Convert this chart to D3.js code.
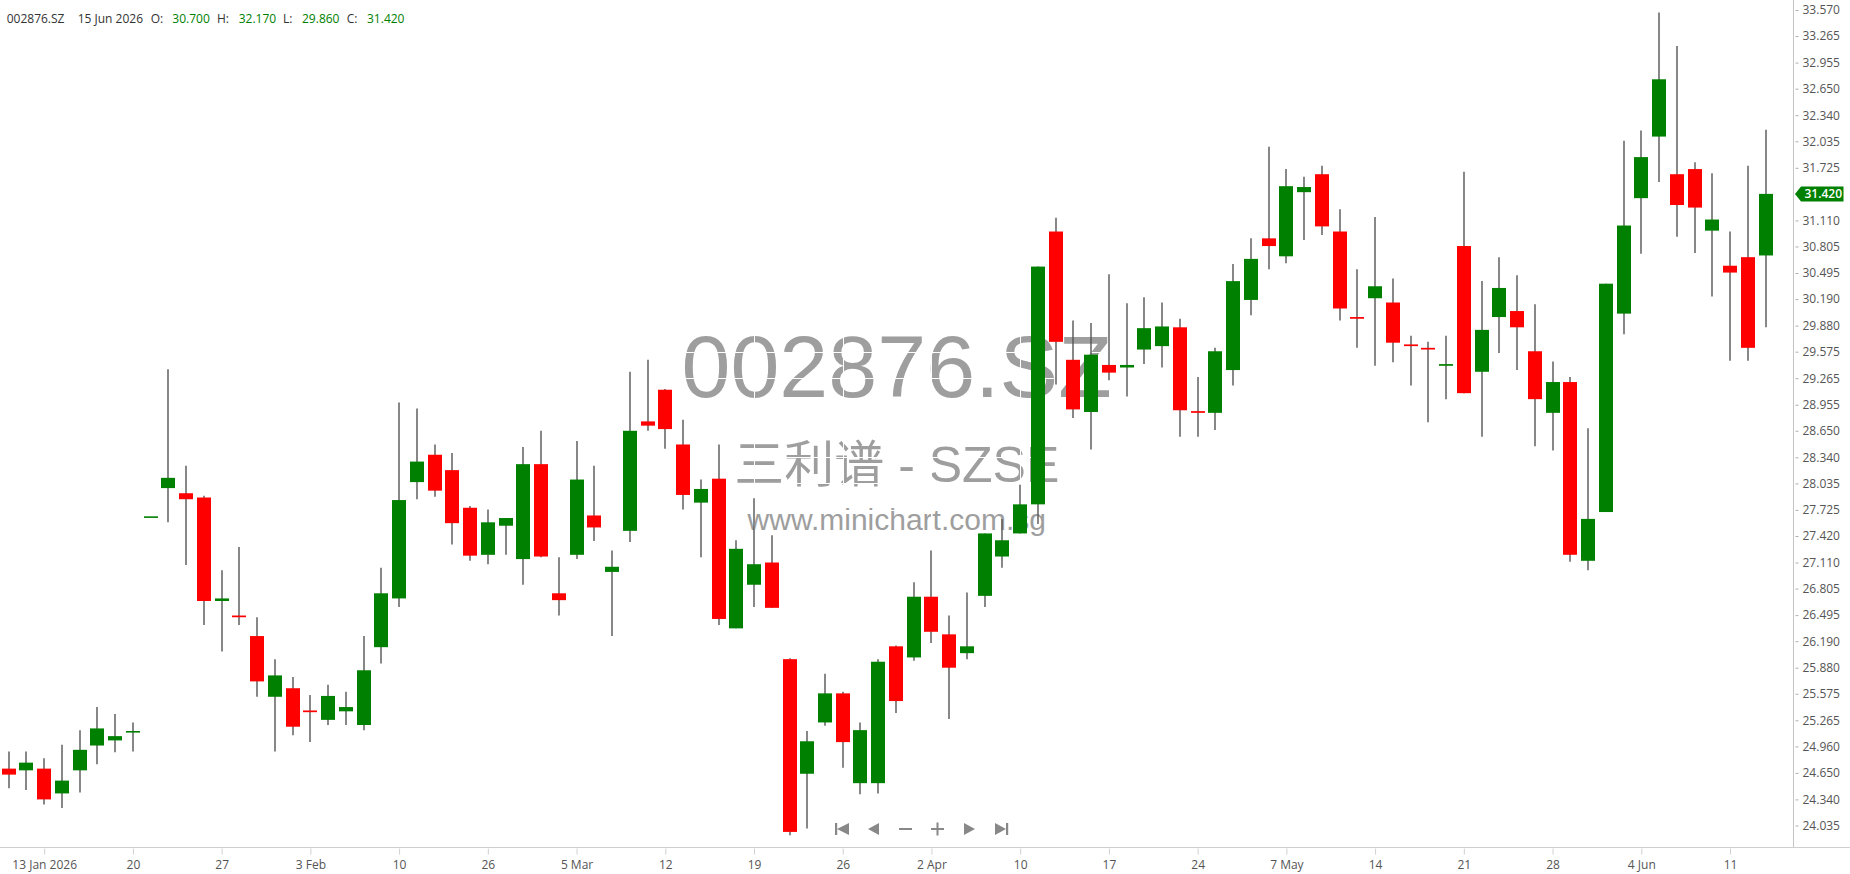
<!DOCTYPE html>
<html><head><meta charset="utf-8">
<script src="https://cdn.jsdelivr.net/npm/d3@7/dist/d3.min.js"></script>
<style>
html,body{margin:0;padding:0;background:#fff;overflow:hidden}
svg{display:block}
</style></head><body>
<svg id="chart" width="1850" height="874"></svg>
<script>
const symbol = "002876.SZ";
const exchangeLine = "三利谱 - SZSE";
const siteLine = "www.minichart.com.sg";

const dates = ["2026-01-09","2026-01-12","2026-01-13","2026-01-14","2026-01-15","2026-01-16","2026-01-19","2026-01-20","2026-01-21","2026-01-22","2026-01-23","2026-01-26","2026-01-27","2026-01-28","2026-01-29","2026-01-30","2026-02-02","2026-02-03","2026-02-04","2026-02-05","2026-02-06","2026-02-09","2026-02-10","2026-02-11","2026-02-12","2026-02-13","2026-02-25","2026-02-26","2026-02-27","2026-03-02","2026-03-03","2026-03-04","2026-03-05","2026-03-06","2026-03-09","2026-03-10","2026-03-11","2026-03-12","2026-03-13","2026-03-16","2026-03-17","2026-03-18","2026-03-19","2026-03-20","2026-03-23","2026-03-24","2026-03-25","2026-03-26","2026-03-27","2026-03-30","2026-03-31","2026-04-01","2026-04-02","2026-04-03","2026-04-07","2026-04-08","2026-04-09","2026-04-10","2026-04-13","2026-04-14","2026-04-15","2026-04-16","2026-04-17","2026-04-20","2026-04-21","2026-04-22","2026-04-23","2026-04-24","2026-04-27","2026-04-28","2026-04-29","2026-04-30","2026-05-07","2026-05-08","2026-05-11","2026-05-12","2026-05-13","2026-05-14","2026-05-15","2026-05-18","2026-05-19","2026-05-20","2026-05-21","2026-05-22","2026-05-25","2026-05-26","2026-05-27","2026-05-28","2026-05-29","2026-06-01","2026-06-02","2026-06-03","2026-06-04","2026-06-05","2026-06-08","2026-06-09","2026-06-10","2026-06-11","2026-06-12","2026-06-15"];

const open = [24.70,24.68,24.70,24.41,24.68,24.97,25.03,25.13,27.65,27.98,
27.92,27.87,26.66,26.49,26.25,25.54,25.64,25.38,25.27,25.37,
25.21,26.12,26.69,28.05,28.37,28.19,27.75,27.20,27.54,27.15,
28.26,26.75,27.20,27.66,27.00,27.48,28.76,29.13,28.49,27.81,
28.09,26.34,26.85,27.11,25.98,24.64,25.24,25.58,24.53,24.53,
26.13,26.00,26.71,26.27,26.05,26.72,27.18,27.45,27.79,30.98,
29.48,28.87,29.42,29.39,29.60,29.64,29.86,28.88,28.86,29.36,
30.18,30.90,30.69,31.44,31.65,30.98,29.98,30.20,30.15,29.66,
29.62,29.41,30.81,29.34,29.98,30.05,29.58,28.86,29.22,27.13,
27.70,30.02,31.37,32.09,31.65,31.71,30.99,30.58,30.68,30.70];

const high = [24.90,24.90,24.82,24.98,25.15,25.42,25.34,25.24,27.65,29.37,
28.24,27.89,27.02,27.29,26.47,25.98,25.77,25.56,25.68,25.60,
26.25,27.05,28.98,28.91,28.49,28.39,27.77,27.73,27.63,28.46,
28.65,27.17,28.53,28.24,27.25,29.34,29.48,29.14,28.78,28.08,
28.49,27.37,27.86,27.43,25.99,25.14,25.81,25.60,25.24,25.98,
26.14,26.88,27.25,26.49,26.76,27.45,27.62,28.02,30.57,31.14,
29.94,29.91,30.48,30.14,30.21,30.15,29.96,29.28,29.62,30.60,
30.90,31.97,31.71,31.62,31.75,31.24,30.54,31.15,30.43,29.76,
29.69,29.76,31.68,30.40,30.68,30.47,30.13,29.46,29.28,28.68,
30.37,32.04,32.16,33.54,33.15,31.79,31.66,30.98,31.75,32.17];

const low = [24.47,24.45,24.28,24.24,24.42,24.75,24.89,24.90,27.65,27.58,
27.08,26.38,26.07,26.38,25.54,24.90,25.09,25.01,25.21,25.21,
25.15,25.93,26.59,27.85,27.88,27.32,27.13,27.09,27.20,26.85,
27.17,26.49,27.15,27.36,26.25,27.35,28.65,28.44,27.73,27.17,
26.38,26.34,26.59,26.58,23.92,24.00,25.20,24.71,24.40,24.41,
25.35,25.96,26.17,25.28,25.98,26.59,27.05,27.45,27.56,29.19,
28.80,28.43,29.24,29.05,29.43,29.39,28.58,28.58,28.66,29.18,
30.00,30.54,30.61,30.88,30.94,29.94,29.62,29.41,29.45,29.18,
28.75,29.02,29.09,28.58,29.56,29.36,28.47,28.42,27.12,27.02,
27.70,29.78,30.72,31.56,30.92,30.73,30.22,29.47,29.47,29.86];

const close = [24.63,24.77,24.34,24.56,24.92,25.17,25.08,25.14,27.65,28.10,
27.85,26.66,26.69,26.47,25.72,25.79,25.19,25.36,25.55,25.42,
25.85,26.75,27.84,28.29,27.95,27.57,27.19,27.58,27.63,28.26,
27.18,26.67,28.08,27.52,27.06,28.65,28.71,28.67,27.90,27.97,
26.45,27.27,27.09,26.58,23.96,25.02,25.58,25.01,25.15,25.95,
25.49,26.71,26.30,25.88,26.13,27.45,27.37,27.79,30.57,29.69,
28.90,29.54,29.33,29.42,29.85,29.87,28.89,28.86,29.58,30.40,
30.66,30.81,31.51,31.50,31.04,30.08,29.96,30.34,29.68,29.64,
29.60,29.43,29.09,29.83,30.32,29.86,29.02,29.22,27.20,27.62,
30.37,31.05,31.85,32.76,31.29,31.26,31.12,30.50,29.62,31.42];

const yTickValues = [33.570,33.265,32.955,32.650,32.340,32.035,31.725,31.420,31.110,30.805,30.495,30.190,29.880,29.575,29.265,28.955,28.650,28.340,28.035,27.725,27.420,27.110,26.805,26.495,26.190,25.880,25.575,25.265,24.960,24.650,24.340,24.035];

const xTickDates = ["2026-01-13","2026-01-20","2026-01-27","2026-02-03","2026-02-10","2026-02-26","2026-03-05","2026-03-12","2026-03-19","2026-03-26","2026-04-02","2026-04-10","2026-04-17","2026-04-24","2026-05-07","2026-05-14","2026-05-21","2026-05-28","2026-06-04","2026-06-11"];
const xTickLabels = ["13 Jan 2026","20","27","3 Feb","10","26","5 Mar","12","19","26","2 Apr","10","17","24","7 May","14","21","28","4 Jun","11"];

const UP = "#008000", DOWN = "#ff0000";
const FONT = '"Open Sans", "DejaVu Sans", sans-serif';

const W = 1850, H = 874;
const plotRight = 1793.5, axisY = 847.5;

const svg = d3.select("#chart");

const x = d3.scalePoint().domain(dates).range([8.7, 1765.5]);
const y = d3.scaleLinear().domain([24.035, 33.570]).range([825.5, 10]);

const data = dates.map((d, i) => ({date: d, o: open[i], h: high[i], l: low[i], c: close[i]}));

// watermark
const wm = svg.append("g").attr("fill", "#9e9e9e").attr("text-anchor", "middle");
const cx = plotRight / 2;
wm.append("text").attr("x", cx).attr("y", 397).style("font", `88px "Liberation Sans", Arial, sans-serif`).text(symbol);
wm.append("text").attr("x", cx).attr("y", 482).style("font", `50px "Liberation Sans", "Noto Sans CJK SC", sans-serif`).text(exchangeLine);
wm.append("text").attr("x", cx).attr("y", 530).style("font", `30px "Liberation Sans", Arial, sans-serif`).text(siteLine);

// white grid (visible only across the watermark)
const grid = svg.append("g").attr("stroke", "#fff").attr("stroke-width", 1);
grid.selectAll("line.h").data(yTickValues).join("line")
  .attr("x1", 0).attr("x2", plotRight).attr("y1", d => Math.round(y(d)) + 0.5).attr("y2", d => Math.round(y(d)) + 0.5);
grid.selectAll("line.v").data(xTickDates).join("line")
  .attr("y1", 0).attr("y2", axisY).attr("x1", d => Math.round(x(d)) + 0.5).attr("x2", d => Math.round(x(d)) + 0.5);

// candles
const bw = Math.round(x.step() * 0.79);
const cg = svg.append("g");
cg.selectAll("line.wick").data(data).join("line").attr("class", "wick")
  .attr("x1", d => Math.round(x(d.date)))
  .attr("x2", d => Math.round(x(d.date)))
  .attr("y1", d => y(d.h)).attr("y2", d => y(d.l))
  .attr("stroke", "#555").attr("stroke-width", 1.4);
cg.selectAll("rect.body").data(data).join("rect").attr("class", "body")
  .attr("x", d => Math.round(x(d.date)) - bw / 2)
  .attr("width", bw)
  .attr("y", d => y(Math.max(d.o, d.c)))
  .attr("height", d => Math.max(1.6, Math.abs(y(d.o) - y(d.c))))
  .attr("fill", d => d.c >= d.o ? UP : DOWN);

// axes lines
svg.append("line").attr("x1", plotRight).attr("x2", plotRight).attr("y1", 0).attr("y2", axisY)
  .attr("stroke", "#c4c4c4").attr("stroke-width", 1);
svg.append("line").attr("x1", 0).attr("x2", W).attr("y1", axisY).attr("y2", axisY)
  .attr("stroke", "#cfcfcf").attr("stroke-width", 1);

// y axis
const ya = svg.append("g").attr("transform", `translate(${plotRight},0)`)
  .call(d3.axisRight(y).tickValues(yTickValues).tickFormat(d => d.toFixed(3)).tickSize(5).tickPadding(4));
ya.select(".domain").remove();
ya.selectAll(".tick line").attr("x1", 2).attr("x2", 5).attr("stroke", "#b0b0b0");
ya.selectAll(".tick text").attr("x", 9).attr("fill", "#555").style("font", `12px ${FONT}`);

// x axis
const xa = svg.append("g").attr("transform", `translate(0,${axisY})`)
  .call(d3.axisBottom(x).tickValues(xTickDates).tickFormat((d, i) => xTickLabels[i]).tickSize(7).tickPadding(6));
xa.select(".domain").remove();
xa.selectAll(".tick line").attr("y1", 1).attr("stroke", "#d0d0d0");
xa.selectAll(".tick text").attr("fill", "#555").style("font", `12px ${FONT}`);

// last price tag
const last = data[data.length - 1];
const ly = y(last.c);
const tagColor = last.c >= last.o ? UP : DOWN;
svg.append("path")
  .attr("d", `M${plotRight + 1.5},${ly} L${plotRight + 7.5},${ly - 7.5} L${plotRight + 50},${ly - 7.5} L${plotRight + 50},${ly + 7.5} L${plotRight + 7.5},${ly + 7.5} Z`)
  .attr("fill", tagColor);
svg.append("text").attr("x", plotRight + 11).attr("y", ly).attr("dy", "0.35em")
  .attr("fill", "#fff").style("font", `600 12px ${FONT}`).text(last.c.toFixed(3));

// header
const fmtDate = d3.timeFormat("%d %b %Y");
const lastDate = d3.timeParse("%Y-%m-%d")(last.date);
const hdr = svg.append("g").style("font", `12px ${FONT}`);
const items = [
  [6.7, symbol, "#333"],
  [77.7, fmtDate(lastDate), "#333"],
  [150.7, "O:", "#333"], [172.3, last.o.toFixed(3), tagColor],
  [217, "H:", "#333"], [238.7, last.h.toFixed(3), tagColor],
  [283, "L:", "#333"], [302, last.l.toFixed(3), tagColor],
  [346.7, "C:", "#333"], [367, last.c.toFixed(3), tagColor]
];
hdr.selectAll("text").data(items).join("text")
  .attr("x", d => d[0]).attr("y", 22.5).attr("fill", d => d[2]).text(d => d[1]);

// navigation controls
const nav = svg.append("g").attr("fill", "#888").attr("stroke", "none");
const ny = 829;
// first
nav.append("rect").attr("x", 835).attr("y", ny - 6).attr("width", 2.2).attr("height", 12);
nav.append("path").attr("d", `M837,${ny} L849,${ny - 6} L849,${ny + 6} Z`);
// prev
nav.append("path").attr("d", `M868,${ny} L879,${ny - 6} L879,${ny + 6} Z`);
// minus
nav.append("rect").attr("x", 899).attr("y", ny - 1).attr("width", 13).attr("height", 2);
// plus
nav.append("rect").attr("x", 931).attr("y", ny - 1).attr("width", 13).attr("height", 2);
nav.append("rect").attr("x", 936.5).attr("y", ny - 6.5).attr("width", 2).attr("height", 13);
// next
nav.append("path").attr("d", `M975,${ny} L964,${ny - 6} L964,${ny + 6} Z`);
// last
nav.append("path").attr("d", `M1006,${ny} L995,${ny - 6} L995,${ny + 6} Z`);
nav.append("rect").attr("x", 1006).attr("y", ny - 6).attr("width", 2.2).attr("height", 12);
</script>
</body></html>
